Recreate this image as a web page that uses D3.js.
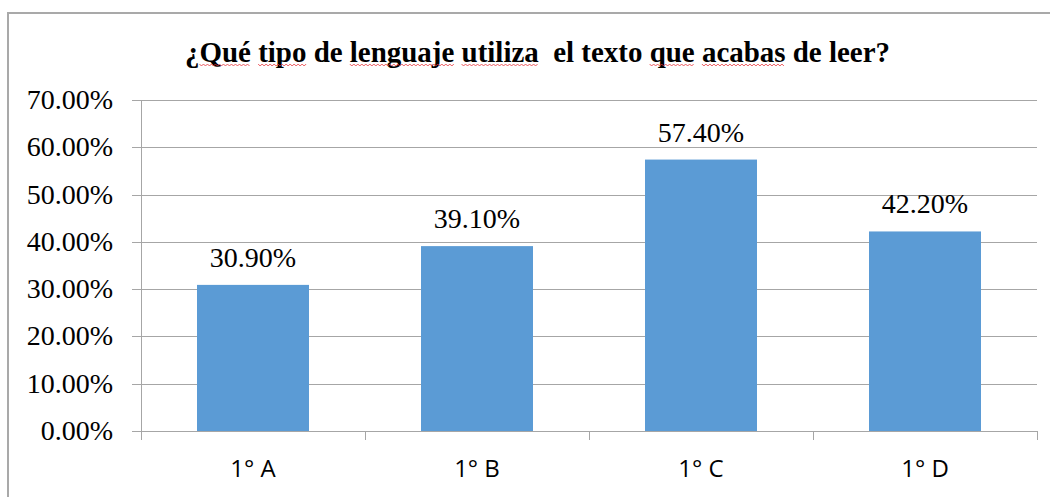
<!DOCTYPE html>
<html>
<head>
<meta charset="utf-8">
<script src="https://cdn.jsdelivr.net/npm/d3@7"></script>
<style>
  html, body { margin: 0; padding: 0; background: #fff; }
  svg { display: block; }
</style>
</head>
<body>
<svg id="chart" width="1050" height="497"></svg>
<script>
const title = "¿Qué tipo de lenguaje utiliza  el texto que acabas de leer?";
const squiggleWords = ["Qué", "tipo", "lenguaje", "utiliza", "que", "acabas"];
const categories = ["1° A", "1° B", "1° C", "1° D"];
const values = [0.309, 0.391, 0.574, 0.422];
const valueLabels = ["30.90%", "39.10%", "57.40%", "42.20%"];
const yTicks = [0, 0.1, 0.2, 0.3, 0.4, 0.5, 0.6, 0.7];

(function () {
const svg = d3.select("#chart");
const gridColor = "#a6a6a6";
const plotLeft = 141, plotRight = 1037, plotTop = 100, plotBottom = 431;

// outer border (chart area frame)
svg.append("path")
  .attr("d", "M8,497V13H1050")
  .attr("fill", "none")
  .attr("stroke", "#a9a9a9")
  .attr("stroke-width", 2);

const x = d3.scaleBand().domain(categories).range([plotLeft, plotRight]).paddingInner(0).paddingOuter(0);
const y = d3.scaleLinear().domain([0, 0.7]).range([plotBottom, plotTop]);

// gridlines + left tick stubs
svg.append("g").selectAll("line").data(yTicks).join("line")
  .attr("x1", plotLeft - 9).attr("x2", plotRight)
  .attr("y1", d => Math.round(y(d)) + 0.5).attr("y2", d => Math.round(y(d)) + 0.5)
  .attr("stroke", gridColor).attr("stroke-width", 1);

// y axis line
svg.append("line")
  .attr("x1", plotLeft + 0.5).attr("x2", plotLeft + 0.5)
  .attr("y1", Math.round(y(0.7))).attr("y2", Math.round(y(0)) + 9)
  .attr("stroke", gridColor);

// x category boundary ticks
const boundaries = categories.map(c => x(c)).concat([x(categories[categories.length - 1]) + x.bandwidth()]);
svg.append("g").selectAll("line").data(boundaries.slice(1)).join("line")
  .attr("x1", d => Math.round(d) + 0.5).attr("x2", d => Math.round(d) + 0.5)
  .attr("y1", Math.round(y(0))).attr("y2", Math.round(y(0)) + 9)
  .attr("stroke", gridColor);

// y tick labels
svg.append("g").selectAll("text").data(yTicks).join("text")
  .attr("x", 113)
  .attr("y", d => y(d) + 9)
  .attr("text-anchor", "end")
  .attr("font-family", "'Liberation Serif', 'Times New Roman', serif")
  .attr("font-size", 28)
  .attr("fill", "#000")
  .text(d => d3.format(".2%")(d));

// bars
const barW = x.bandwidth() * 0.5;
svg.append("g").selectAll("rect").data(values).join("rect")
  .attr("x", (d, i) => x(categories[i]) + (x.bandwidth() - barW) / 2)
  .attr("y", d => y(d))
  .attr("width", barW)
  .attr("height", d => y(0) - y(d))
  .attr("fill", "#5b9bd5");

// data labels
svg.append("g").selectAll("text").data(values).join("text")
  .attr("x", (d, i) => x(categories[i]) + x.bandwidth() / 2)
  .attr("y", d => y(d) - 18)
  .attr("text-anchor", "middle")
  .attr("font-family", "'Liberation Serif', 'Times New Roman', serif")
  .attr("font-size", 28)
  .attr("fill", "#000")
  .text((d, i) => valueLabels[i]);

// category labels
svg.append("g").selectAll("text").data(categories).join("text")
  .attr("x", d => x(d) + x.bandwidth() / 2)
  .attr("y", 477)
  .attr("text-anchor", "middle")
  .attr("font-family", "'Open Sans', 'Liberation Sans', sans-serif")
  .attr("font-size", 24)
  .attr("fill", "#000")
  .text(d => d);

// title
const titleText = svg.append("text")
  .attr("x", 185)
  .attr("y", 62)
  .attr("font-family", "'Liberation Serif', 'Times New Roman', serif")
  .attr("font-weight", "bold")
  .attr("font-size", 29)
  .attr("textLength", 705)
  .attr("lengthAdjust", "spacingAndGlyphs")
  .attr("fill", "#000")
  .style("white-space", "pre")
  .text(title);

// spell-check squiggles under some title words
const node = titleText.node();
let searchFrom = 0;
squiggleWords.forEach(w => {
  const idx = title.indexOf(w, searchFrom);
  if (idx < 0) return;
  searchFrom = idx + w.length;
  try {
    const x0 = node.getStartPositionOfChar(idx).x;
    const x1 = node.getEndPositionOfChar(idx + w.length - 1).x;
    const pts = [];
    let up = true;
    for (let xx = x0; xx <= x1; xx += 2) { pts.push([xx, up ? 64 : 66]); up = !up; }
    svg.append("path")
      .attr("d", d3.line()(pts))
      .attr("fill", "none")
      .attr("stroke", "#e8343a")
      .attr("stroke-width", 0.8);
  } catch (e) {}
});
})();
</script>
</body>
</html>
